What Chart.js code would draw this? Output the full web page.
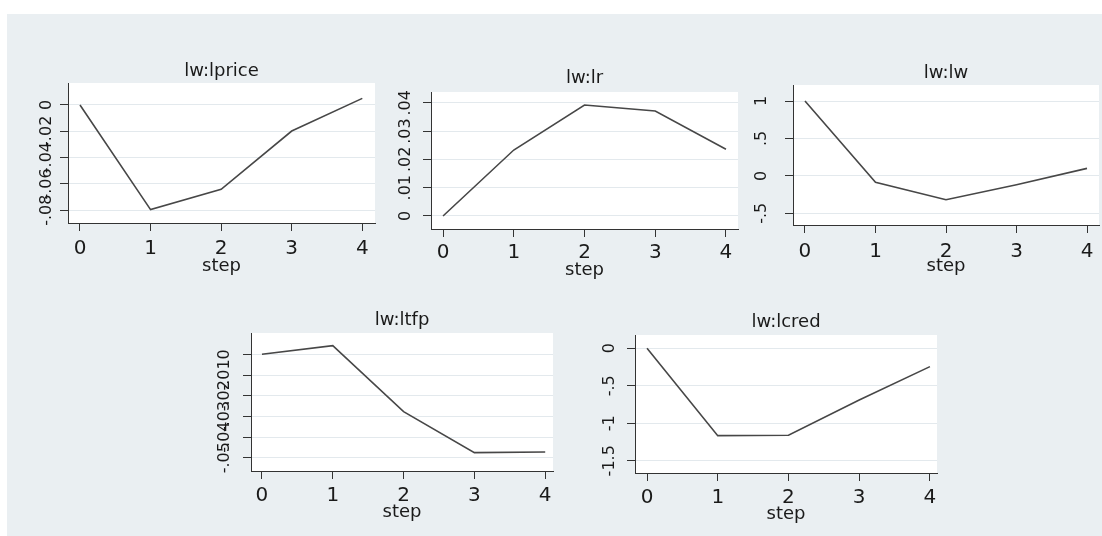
<!DOCTYPE html>
<html>
<head>
<meta charset="utf-8">
<script src="https://cdn.jsdelivr.net/npm/chart.js@4.4.1/dist/chart.umd.min.js"></script>
<style>
  html, body { margin: 0; padding: 0; background: #fff; overflow: hidden; }
  #bg { position: absolute; left: 7px; top: 14px; width: 1095px; height: 522px; background: #eaeff2; }
  canvas { position: absolute; }
</style>
</head>
<body>
<div id="bg"></div>
<script>
// x axis: forecast steps
const steps = [0, 1, 2, 3, 4];
const stepLabels = ['0', '1', '2', '3', '4'];

// impulse responses (impulse lw)
const lpriceVals = [0, -0.0795, -0.0641, -0.0198, 0.005];
const lrVals     = [0, 0.0233, 0.0392, 0.0371, 0.0236];
const lwVals     = [1, -0.085, -0.32, -0.12, 0.10];
const ltfpVals   = [0, 0.0042, -0.0277, -0.0475, -0.0472];
const lcredVals  = [0, -1.165, -1.16, -0.69, -0.245];

// y ticks and their labels
const lpriceTicks = [-0.08, -0.06, -0.04, -0.02, 0];
const lpriceTickLabels = ['-.08', '-.06', '-.04', '-.02', '0'];
const lrTicks = [0, 0.01, 0.02, 0.03, 0.04];
const lrTickLabels = ['0', '.01', '.02', '.03', '.04'];
const lwTicks = [-0.5, 0, 0.5, 1];
const lwTickLabels = ['-.5', '0', '.5', '1'];
const ltfpTicks = [-0.05, -0.04, -0.03, -0.02, -0.01, 0];
const ltfpTickLabels = ['-.05', '-.04', '-.03', '-.02', '-.01', '0'];
const lcredTicks = [-1.5, -1, -0.5, 0];
const lcredTickLabels = ['-1.5', '-1', '-.5', '0'];

const titles = ['lw:lprice', 'lw:lr', 'lw:lw', 'lw:ltfp', 'lw:lcred'];

// where each panel's plot box sits on the page
const panels = [
  { title: titles[0], vals: lpriceVals, ticks: lpriceTicks, labels: lpriceTickLabels,
    L: 68, T: 83, R: 375, B: 223, titleBase: 76, labelX: 47, xLabY: 249, stepY: 269.5,
    xMin: -0.17, xMax: 4.18, yMin: -0.0897, yMax: 0.0167 },
  { title: titles[1], vals: lrVals, ticks: lrTicks, labels: lrTickLabels,
    L: 431, T: 92, R: 738, B: 229, titleBase: 83, labelX: 406, xLabY: 253, stepY: 273.5,
    xMin: -0.17, xMax: 4.17, yMin: -0.0046, yMax: 0.0438 },
  { title: titles[2], vals: lwVals, ticks: lwTicks, labels: lwTickLabels,
    L: 793, T: 85, R: 1099, B: 225, titleBase: 78, labelX: 762, xLabY: 252, stepY: 269.5,
    xMin: -0.17, xMax: 4.17, yMin: -0.657, yMax: 1.214 },
  { title: titles[3], vals: ltfpVals, ticks: ltfpTicks, labels: ltfpTickLabels,
    L: 251, T: 333, R: 553, B: 471, titleBase: 325, labelX: 225, xLabY: 495.5, stepY: 515.5,
    xMin: -0.155, xMax: 4.11, yMin: -0.0564, yMax: 0.0103 },
  { title: titles[4], vals: lcredVals, ticks: lcredTicks, labels: lcredTickLabels,
    L: 635, T: 335, R: 937, B: 473, titleBase: 327, labelX: 610, xLabY: 497.5, stepY: 517.5,
    xMin: -0.17, xMax: 4.10, yMin: -1.663, yMax: 0.177 }
];

const FONT = '"DejaVu Sans", "Liberation Sans", Arial, sans-serif';
const TEXT = '#1a1a1a';
const PAD_L = 60, PAD_T = 40, PAD_R = 10, AX_H = 60;

// white plot box, title and vertical y labels (stata style)
const panelDecor = {
  id: 'panelDecor',
  beforeDraw(chart, args, opts) {
    const a = chart.chartArea, ctx = chart.ctx;
    ctx.save();
    ctx.fillStyle = '#ffffff';
    ctx.fillRect(a.left, a.top, a.right - a.left, a.bottom - a.top);
    ctx.restore();
  },
  afterDraw(chart, args, opts) {
    const ctx = chart.ctx, a = chart.chartArea, ys = chart.scales.y;
    ctx.save();
    ctx.fillStyle = TEXT;
    ctx.font = '18px ' + FONT;
    ctx.textAlign = 'center';
    ctx.textBaseline = 'alphabetic';
    ctx.fillText(opts.title, (a.left + a.right) / 2, opts.titleY);

    ctx.font = '16px ' + FONT;
    ctx.textBaseline = 'middle';
    ys.ticks.forEach((t, i) => {
      const y = ys.getPixelForValue(t.value);
      ctx.save();
      ctx.translate(opts.labelX, y);
      ctx.rotate(-Math.PI / 2);
      ctx.fillText(opts.tickLabels[i], 0, 0);
      ctx.restore();
    });
    ctx.restore();
  }
};

panels.forEach(p => {
  const cv = document.createElement('canvas');
  const left = p.L - PAD_L, top = p.T - PAD_T;
  const w = (p.R - p.L) + PAD_L + PAD_R;
  const h = (p.B - p.T) + PAD_T + AX_H;
  cv.width = w; cv.height = h;
  cv.style.left = left + 'px';
  cv.style.top = top + 'px';
  cv.style.width = w + 'px';
  cv.style.height = h + 'px';
  document.body.appendChild(cv);

  const xPad = (p.xLabY - p.B) - 8 - 12;
  const stepPad = AX_H - (p.stepY - p.B - 3.4) - 10.8;

  new Chart(cv.getContext('2d'), {
    type: 'line',
    data: {
      datasets: [{
        data: steps.map((s, i) => ({ x: s, y: p.vals[i] })),
        borderColor: '#474747',
        borderWidth: 1.6,
        pointRadius: 0,
        tension: 0,
        fill: false
      }]
    },
    options: {
      responsive: false,
      animation: false,
      devicePixelRatio: 1,
      layout: { padding: { left: 0, top: PAD_T, right: PAD_R, bottom: 0 } },
      plugins: {
        legend: { display: false },
        tooltip: { enabled: false },
        panelDecor: {
          title: p.title,
          titleY: p.titleBase - top,
          labelX: p.labelX - left,
          tickLabels: p.labels
        }
      },
      scales: {
        x: {
          type: 'linear',
          min: p.xMin,
          max: p.xMax,
          afterBuildTicks: s => { s.ticks = steps.map(v => ({ value: v })); },
          afterFit: s => { s.height = AX_H; },
          grid: { drawOnChartArea: false, drawTicks: true, tickLength: 8, tickColor: '#333', tickWidth: 1 },
          border: { display: true, color: '#333', width: 1 },
          ticks: {
            padding: xPad,
            color: TEXT,
            font: { family: FONT, size: 20 },
            maxRotation: 0,
            autoSkip: false,
            callback: v => stepLabels[steps.indexOf(v)]
          },
          title: {
            display: true,
            text: 'step',
            color: TEXT,
            font: { family: FONT, size: 18 },
            padding: { top: 0, bottom: stepPad }
          }
        },
        y: {
          type: 'linear',
          min: p.yMin,
          max: p.yMax,
          afterBuildTicks: s => { s.ticks = p.ticks.map(v => ({ value: v })); },
          afterFit: s => { s.width = PAD_L; },
          grid: { color: '#e3e9ed', tickColor: '#333', tickLength: 8, drawTicks: true, lineWidth: 1 },
          border: { display: true, color: '#333', width: 1 },
          ticks: { display: false }
        }
      }
    },
    plugins: [panelDecor]
  });
});
</script>
</body>
</html>
